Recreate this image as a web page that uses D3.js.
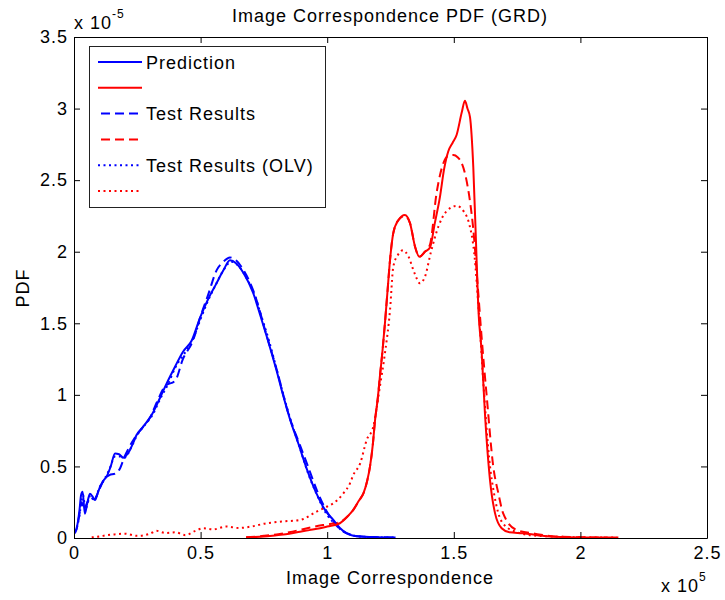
<!DOCTYPE html>
<html>
<head>
<meta charset="utf-8">
<script src="https://cdn.jsdelivr.net/npm/d3@7"></script>
<style>
  body { margin: 0; background: #fff; }
  svg { display: block; }
  text { font-family: "Liberation Sans", Arial, Helvetica, sans-serif; fill: #000; }
</style>
</head>
<body>
<svg id="chart" width="725" height="600"></svg>
<script>
// Image correspondence (x 1e5) vs PDF (x 1e-5)

// Prediction, group 1 (blue)
const predBlueX = [0, 0.008, 0.016, 0.022, 0.028, 0.034, 0.043, 0.052, 0.063, 0.073, 0.083, 0.093, 0.103, 0.116, 0.129, 0.145, 0.162, 0.178, 0.195, 0.208, 0.221, 0.235, 0.247, 0.265, 0.287, 0.31, 0.34, 0.366, 0.4, 0.43, 0.465, 0.498, 0.53, 0.56, 0.59, 0.616, 0.64, 0.67, 0.708, 0.735, 0.761, 0.8, 0.827, 0.853, 0.886, 0.92, 0.958, 0.99, 1.024, 1.05, 1.077, 1.1, 1.15, 1.2, 1.27];
const predBlueY = [0.04, 0.056, 0.12, 0.2, 0.3, 0.323, 0.17, 0.24, 0.31, 0.29, 0.265, 0.31, 0.358, 0.4, 0.43, 0.5, 0.59, 0.585, 0.56, 0.58, 0.615, 0.67, 0.72, 0.76, 0.81, 0.87, 0.98, 1.08, 1.2, 1.3, 1.38, 1.54, 1.67, 1.77, 1.87, 1.94, 1.92, 1.85, 1.71, 1.56, 1.41, 1.17, 0.99, 0.83, 0.66, 0.48, 0.31, 0.2, 0.126, 0.07, 0.033, 0.018, 0.008, 0.005, 0.003];

// Prediction, group 2 (red)
const predRedX = [0.68, 0.75, 0.8, 0.85, 0.893, 0.93, 0.972, 1.0, 1.05, 1.08, 1.103, 1.125, 1.143, 1.158, 1.169, 1.18, 1.189, 1.2, 1.208, 1.218, 1.228, 1.238, 1.248, 1.261, 1.281, 1.307, 1.327, 1.347, 1.364, 1.386, 1.406, 1.425, 1.445, 1.462, 1.478, 1.495, 1.511, 1.531, 1.544, 1.554, 1.564, 1.577, 1.588, 1.597, 1.61, 1.623, 1.643, 1.663, 1.689, 1.72, 1.774, 1.83, 1.88, 1.95, 2.05, 2.145];
const predRedY = [0.005, 0.01, 0.02, 0.03, 0.044, 0.055, 0.068, 0.08, 0.103, 0.15, 0.196, 0.26, 0.312, 0.4, 0.498, 0.65, 0.824, 0.98, 1.127, 1.3, 1.5, 1.72, 1.94, 2.13, 2.22, 2.257, 2.2, 2.035, 1.965, 2.0, 2.03, 2.2, 2.38, 2.58, 2.7, 2.76, 2.815, 2.97, 3.055, 3.0, 2.94, 2.59, 2.05, 1.6, 1.3, 0.87, 0.405, 0.172, 0.068, 0.04, 0.033, 0.02, 0.01, 0.006, 0.004, 0.003];

// Test results, group 1 (blue)
const testBlueX = [0, 0.01, 0.02, 0.03, 0.04, 0.05, 0.065, 0.08, 0.1, 0.116, 0.14, 0.162, 0.18, 0.2, 0.22, 0.24, 0.27, 0.3, 0.33, 0.36, 0.4, 0.43, 0.47, 0.5, 0.53, 0.563, 0.59, 0.616, 0.64, 0.67, 0.71, 0.76, 0.8, 0.85, 0.89, 0.92, 0.96, 1.0, 1.03, 1.06, 1.09, 1.12, 1.2, 1.27];
const testBlueY = [0.03, 0.06, 0.15, 0.25, 0.2, 0.24, 0.28, 0.27, 0.34, 0.4, 0.44, 0.45, 0.48, 0.57, 0.64, 0.7, 0.77, 0.84, 0.96, 1.06, 1.1, 1.25, 1.38, 1.55, 1.7, 1.87, 1.93, 1.96, 1.94, 1.87, 1.72, 1.42, 1.18, 0.85, 0.66, 0.52, 0.33, 0.18, 0.1, 0.05, 0.025, 0.012, 0.006, 0.004];

// Test results, group 2 (red)
const testRedX = [0.68, 0.75, 0.8, 0.85, 0.9, 0.95, 1.0, 1.05, 1.08, 1.103, 1.125, 1.143, 1.158, 1.169, 1.18, 1.189, 1.2, 1.208, 1.218, 1.228, 1.238, 1.248, 1.261, 1.281, 1.307, 1.327, 1.347, 1.364, 1.386, 1.406, 1.432, 1.459, 1.478, 1.498, 1.515, 1.531, 1.55, 1.57, 1.576, 1.595, 1.61, 1.63, 1.656, 1.676, 1.695, 1.748, 1.82, 1.9, 2.0, 2.1];
const testRedY = [0.005, 0.015, 0.025, 0.04, 0.06, 0.08, 0.095, 0.11, 0.15, 0.196, 0.26, 0.312, 0.4, 0.498, 0.65, 0.824, 0.98, 1.127, 1.3, 1.5, 1.72, 1.94, 2.13, 2.22, 2.25, 2.2, 2.035, 1.965, 2.0, 2.05, 2.41, 2.62, 2.67, 2.675, 2.66, 2.62, 2.5, 2.27, 2.175, 1.75, 1.4, 0.99, 0.498, 0.312, 0.172, 0.056, 0.03, 0.01, 0.005, 0.003];

// Test results (OLV), group 1 (blue)
const olvBlueX = [0, 0.01, 0.02, 0.03, 0.036, 0.045, 0.055, 0.065, 0.075, 0.085, 0.1, 0.12, 0.14, 0.162, 0.18, 0.2, 0.225, 0.25, 0.28, 0.31, 0.34, 0.37, 0.4, 0.44, 0.47, 0.5, 0.53, 0.56, 0.59, 0.62, 0.65, 0.68, 0.715, 0.74, 0.77, 0.8, 0.83, 0.86, 0.89, 0.925, 0.96, 1.0, 1.03, 1.06, 1.09, 1.13, 1.2, 1.27];
const olvBlueY = [0.04, 0.07, 0.14, 0.26, 0.3, 0.2, 0.25, 0.3, 0.27, 0.28, 0.35, 0.41, 0.48, 0.57, 0.57, 0.56, 0.63, 0.72, 0.79, 0.86, 0.97, 1.07, 1.19, 1.3, 1.39, 1.53, 1.66, 1.77, 1.87, 1.93, 1.9, 1.82, 1.69, 1.55, 1.38, 1.18, 0.98, 0.8, 0.64, 0.45, 0.3, 0.16, 0.1, 0.05, 0.025, 0.01, 0.005, 0.003];

// Test results (OLV), group 2 (red)
const olvRedX = [0.07, 0.1, 0.13, 0.16, 0.2, 0.25, 0.3, 0.326, 0.36, 0.4, 0.44, 0.48, 0.51, 0.55, 0.6, 0.65, 0.7, 0.761, 0.82, 0.893, 0.958, 1.0, 1.024, 1.064, 1.09, 1.103, 1.13, 1.156, 1.182, 1.208, 1.228, 1.248, 1.261, 1.28, 1.3, 1.32, 1.345, 1.366, 1.385, 1.41, 1.44, 1.47, 1.511, 1.54, 1.56, 1.58, 1.6, 1.62, 1.64, 1.66, 1.68, 1.7, 1.75, 1.8, 1.9, 2.0, 2.15];
const olvRedY = [0.005, 0.01, 0.02, 0.025, 0.03, 0.015, 0.03, 0.05, 0.035, 0.04, 0.02, 0.05, 0.068, 0.06, 0.08, 0.07, 0.08, 0.103, 0.115, 0.126, 0.184, 0.22, 0.242, 0.312, 0.382, 0.44, 0.52, 0.685, 0.778, 1.057, 1.29, 1.59, 1.895, 1.98, 2.01, 1.97, 1.85, 1.78, 1.82, 2.0, 2.18, 2.28, 2.32, 2.28, 2.2, 2.0, 1.55, 1.0, 0.55, 0.3, 0.15, 0.09, 0.04, 0.02, 0.01, 0.005, 0.003];

// Axis ticks and labels
const xTickValues = [0, 0.5, 1, 1.5, 2, 2.5];
const xTickLabels = ["0", "0.5", "1", "1.5", "2", "2.5"];
const yTickValues = [0, 0.5, 1, 1.5, 2, 2.5, 3, 3.5];
const yTickLabels = ["0", "0.5", "1", "1.5", "2", "2.5", "3", "3.5"];

const legendLabels = ["Prediction", "", "Test Results", "", "Test Results (OLV)", ""];

const titleText = "Image Correspondence PDF (GRD)";
const xLabelText = "Image Correspondence";
const yLabelText = "PDF";

// ---------------------------------------------------------------
const svg = d3.select("#chart");
const plotLeft = 74, plotRight = 707, plotTop = 37, plotBottom = 538;
const FONT = 18, LS = 1;

const x = d3.scaleLinear().domain([0, 2.5]).range([plotLeft, plotRight]);
const y = d3.scaleLinear().domain([0, 3.5]).range([plotBottom, plotTop]);

const BLUE = "#0000ff", RED = "#ff0000";
const DASH = "9,5", DOT = "2,3.5";

const series = [
  { xs: predBlueX, ys: predBlueY, color: BLUE, dash: null },
  { xs: predRedX,  ys: predRedY,  color: RED,  dash: null },
  { xs: testBlueX, ys: testBlueY, color: BLUE, dash: DASH },
  { xs: testRedX,  ys: testRedY,  color: RED,  dash: DASH },
  { xs: olvBlueX,  ys: olvBlueY,  color: BLUE, dash: DOT },
  { xs: olvRedX,   ys: olvRedY,   color: RED,  dash: DOT }
];

svg.append("defs").append("clipPath").attr("id", "plotClip")
  .append("rect").attr("x", plotLeft).attr("y", plotTop)
  .attr("width", plotRight - plotLeft).attr("height", plotBottom - plotTop);

// Curves (dotted first, solid last)
const line = d3.line()
  .x(d => x(d[0]))
  .y(d => y(d[1]))
  .curve(d3.curveMonotoneX);

const curves = svg.append("g").attr("clip-path", "url(#plotClip)");
[4, 5, 2, 3, 0, 1].forEach(i => {
  const s = series[i];
  const pts = s.xs.map((v, k) => [v, s.ys[k]]);
  curves.append("path")
    .attr("d", line(pts))
    .attr("fill", "none")
    .attr("stroke", s.color)
    .attr("stroke-width", 2)
    .attr("stroke-linejoin", "round")
    .attr("stroke-dasharray", s.dash);
});

// Axes: box with inward ticks on all four sides
function styleAxis(g) {
  g.attr("font-family", null);
  g.selectAll("path.domain").attr("stroke", "#000").attr("stroke-width", 1);
  g.selectAll(".tick line").attr("stroke", "#000").attr("stroke-width", 1);
  g.selectAll("text").attr("font-size", FONT).attr("letter-spacing", LS).attr("fill", "#000");
}

svg.append("g").attr("transform", `translate(0,${plotBottom})`)
  .call(d3.axisBottom(x).tickValues(xTickValues).tickSize(-6).tickSizeOuter(0)
    .tickPadding(8).tickFormat((d, i) => xTickLabels[i]))
  .call(styleAxis);

svg.append("g").attr("transform", `translate(0,${plotTop})`)
  .call(d3.axisTop(x).tickValues(xTickValues).tickSize(-6).tickSizeOuter(0).tickFormat(""))
  .call(styleAxis);

svg.append("g").attr("transform", `translate(${plotLeft},0)`)
  .call(d3.axisLeft(y).tickValues(yTickValues).tickSize(-6).tickSizeOuter(0)
    .tickPadding(6).tickFormat((d, i) => yTickLabels[i]))
  .call(styleAxis);

svg.append("g").attr("transform", `translate(${plotRight},0)`)
  .call(d3.axisRight(y).tickValues(yTickValues).tickSize(-6).tickSizeOuter(0).tickFormat(""))
  .call(styleAxis);

// Title and axis labels
function addText(txt, px, py, anchor) {
  return svg.append("text").attr("x", px).attr("y", py)
    .attr("text-anchor", anchor || "start")
    .attr("font-size", FONT)
    .attr("letter-spacing", LS)
    .text(txt);
}
addText(titleText, 390, 22, "middle");
addText(xLabelText, 390, 584, "middle");
svg.append("text")
  .attr("transform", "translate(29,288) rotate(-90)")
  .attr("text-anchor", "middle")
  .attr("font-size", FONT).attr("letter-spacing", LS)
  .text(yLabelText);

// Exponent multipliers
const yExp = svg.append("text").attr("x", 74).attr("y", 29)
  .attr("font-size", FONT).attr("letter-spacing", LS);
yExp.append("tspan").text("x 10");
yExp.append("tspan").attr("dy", -11).attr("font-size", 12).text("-5");

const xExp = svg.append("text").attr("x", 661).attr("y", 592)
  .attr("font-size", FONT).attr("letter-spacing", LS);
xExp.append("tspan").text("x 10");
xExp.append("tspan").attr("dy", -11).attr("font-size", 12).text("5");

// Legend
const lg = svg.append("g");
lg.append("rect").attr("x", 89.5).attr("y", 46.5).attr("width", 236).attr("height", 161)
  .attr("fill", "#fff").attr("stroke", "#222").attr("stroke-width", 1);

const rowY = d3.scaleLinear().domain([0, 5]).range([62, 191]);
series.forEach((s, i) => {
  const ry = rowY(i);
  lg.append("line")
    .attr("x1", 98).attr("x2", 142).attr("y1", ry).attr("y2", ry)
    .attr("stroke", s.color).attr("stroke-width", 2)
    .attr("stroke-dasharray", s.dash)
    .attr("stroke-dashoffset", s.dash === DASH ? -3 : 0);
  if (legendLabels[i]) {
    lg.append("text").attr("x", 146).attr("y", ry + 6.5)
      .attr("font-size", FONT).attr("letter-spacing", LS)
      .text(legendLabels[i]);
  }
});
</script>
</body>
</html>
